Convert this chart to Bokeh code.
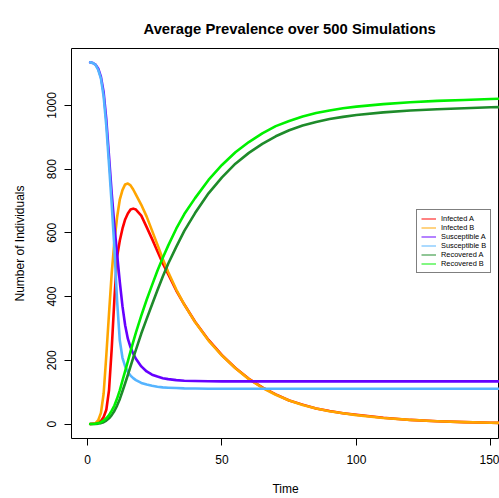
from bokeh.plotting import figure
from bokeh.models import Range1d, FixedTicker, Legend, LegendItem, ColumnDataSource
from bokeh.embed import file_html
from bokeh.resources import INLINE

# ---- data ----
time = [1, 2, 3, 4, 5, 6, 7, 8, 9, 10, 11, 12, 13, 14, 15, 16, 17, 18,
        20, 22, 24, 26, 28, 30,
        33, 36, 40, 45, 50, 55, 60,
        65, 70, 75, 80, 85, 90, 95, 100,
        110, 120, 130, 140, 150, 160, 175]

infected_a = [0, 1, 2, 5, 10, 22, 45, 106, 236, 392, 525, 575, 613, 642, 661, 673, 676, 673,
              654, 618, 581, 542, 504, 470,
              419, 375, 321, 264, 216, 176, 142,
              115, 93, 74, 61, 49, 41, 34, 29,
              20, 13, 9, 6, 4, 3, 2]
infected_b = [0, 1, 3, 12, 35, 96, 216, 347, 473, 573, 649, 704, 734, 752, 755, 749, 736, 720,
              688, 651, 607, 563, 518, 477,
              422, 375, 320, 262, 215, 175, 141,
              114, 92, 74, 60, 49, 40, 34, 28,
              19, 13, 9, 6, 4, 3, 2]
susceptible_a = [1135, 1133, 1128, 1115, 1089, 1041, 955, 840, 724, 623, 533, 447, 370, 310,
                 268, 241, 221, 205,
                 181, 165, 155, 149, 144, 141,
                 138, 136, 135, 134.5, 134, 134, 134,
                 134, 134, 134, 134, 134, 134, 134, 134,
                 134, 134, 134, 134, 134, 134, 134]
susceptible_b = [1135, 1133, 1127, 1111, 1084, 1028, 935, 815, 689, 553, 387, 263, 208, 181,
                 164, 152, 144, 138,
                 129, 124, 120, 117, 115, 114,
                 113, 112, 111.5, 111, 111, 111, 111,
                 111, 111, 111, 111, 111, 111, 111, 111,
                 111, 111, 111, 111, 111, 111, 111]
recovered_a = [0, 0, 0.5, 1.5, 3, 6, 11, 18, 28, 41, 58, 78, 103, 128, 154, 181, 208, 233,
               284, 330, 375, 420, 463, 503,
               556, 606, 662, 724, 774, 817, 851,
               879, 903, 922, 937, 948, 957, 964, 970,
               978, 984, 988, 991, 994, 996, 998]
recovered_b = [0, 0, 1, 3, 6, 11, 18, 28, 42, 58, 80, 106, 136, 166, 197, 228, 258, 287,
               340, 390, 436, 481, 522, 560,
               613, 659, 709, 766, 813, 853, 885,
               912, 935, 951, 965, 976, 984, 991, 996,
               1004, 1010, 1014, 1017, 1020, 1022, 1024]

series_names = ["Infected A", "Infected B", "Susceptible A", "Susceptible B",
                "Recovered A", "Recovered B"]
series_values = [infected_a, infected_b, susceptible_a, susceptible_b, recovered_a, recovered_b]
series_colors = ["#FF0000", "#FFA500", "#6600FF", "#55B4FF", "#1E8B2A", "#00F000"]

x_ticks = [0, 50, 100, 150]
y_ticks = [0, 200, 400, 600, 800, 1000]
title_text = "Average Prevalence over 500 Simulations"

FONT = "Liberation Sans"
NAN = float("nan")

p = figure(width=499, height=498, x_range=Range1d(-5.95, 153.2), y_range=Range1d(-45.3, 1178.5),
           output_backend="svg", toolbar_location=None,
           min_border_left=71, min_border_right=0, min_border_top=48, min_border_bottom=60,
           title=title_text)

p.background_fill_color = "white"
p.border_fill_color = "white"
p.outline_line_color = "black"
p.outline_line_width = 1
p.grid.visible = False

p.title.text_font = FONT
p.title.text_font_style = "bold"
p.title.text_font_size = "14.8px"
p.title.text_color = "black"
p.title.align = "left"
p.title.offset = 72
p.title.vertical_align = "top"
p.title.standoff = 20

xax = p.below[0]
yax = p.left[0]
for ax in (xax, yax):
    ax.axis_line_color = None
    ax.major_tick_line_color = "black"
    ax.major_tick_in = 0
    ax.major_tick_out = 7
    ax.minor_tick_line_color = None
    ax.major_label_text_font = FONT
    ax.major_label_text_font_size = "12px"
    ax.major_label_text_color = "black"
    ax.axis_label_text_font = FONT
    ax.axis_label_text_font_size = "12px"
    ax.axis_label_text_font_style = "normal"
    ax.axis_label_text_color = "black"

xax.ticker = FixedTicker(ticks=x_ticks)
yax.ticker = FixedTicker(ticks=y_ticks)
xax.axis_label = "Time"
yax.axis_label = "Number of Individuals"
xax.major_label_standoff = 9
xax.axis_label_standoff = 15
yax.major_label_standoff = 8
yax.axis_label_standoff = 18
yax.major_label_orientation = "vertical"

legend_items = []
for name, vals, col in zip(series_names, series_values, series_colors):
    src = ColumnDataSource(data=dict(t=time, v=vals))
    p.line("t", "v", source=src, line_color=col, line_width=2.6, line_cap="round",
           line_join="round")
    dummy = p.line(x=[NAN], y=[NAN], line_color=col, line_width=1.4, line_alpha=0.7)
    legend_items.append(LegendItem(label=name, renderers=[dummy]))

legend = Legend(items=legend_items, location=(345, 165))
legend.label_text_font = FONT
legend.label_text_font_size = "7.4px"
legend.label_text_color = "black"
legend.label_height = 9
legend.glyph_height = 9
legend.glyph_width = 15
legend.label_standoff = 5
legend.spacing = 0
legend.padding = 4
legend.margin = 0
legend.border_line_color = "black"
legend.border_line_width = 1
legend.background_fill_color = "white"
legend.background_fill_alpha = 1
p.add_layout(legend, "center")

open("out.html", "w").write(file_html(p, INLINE))
